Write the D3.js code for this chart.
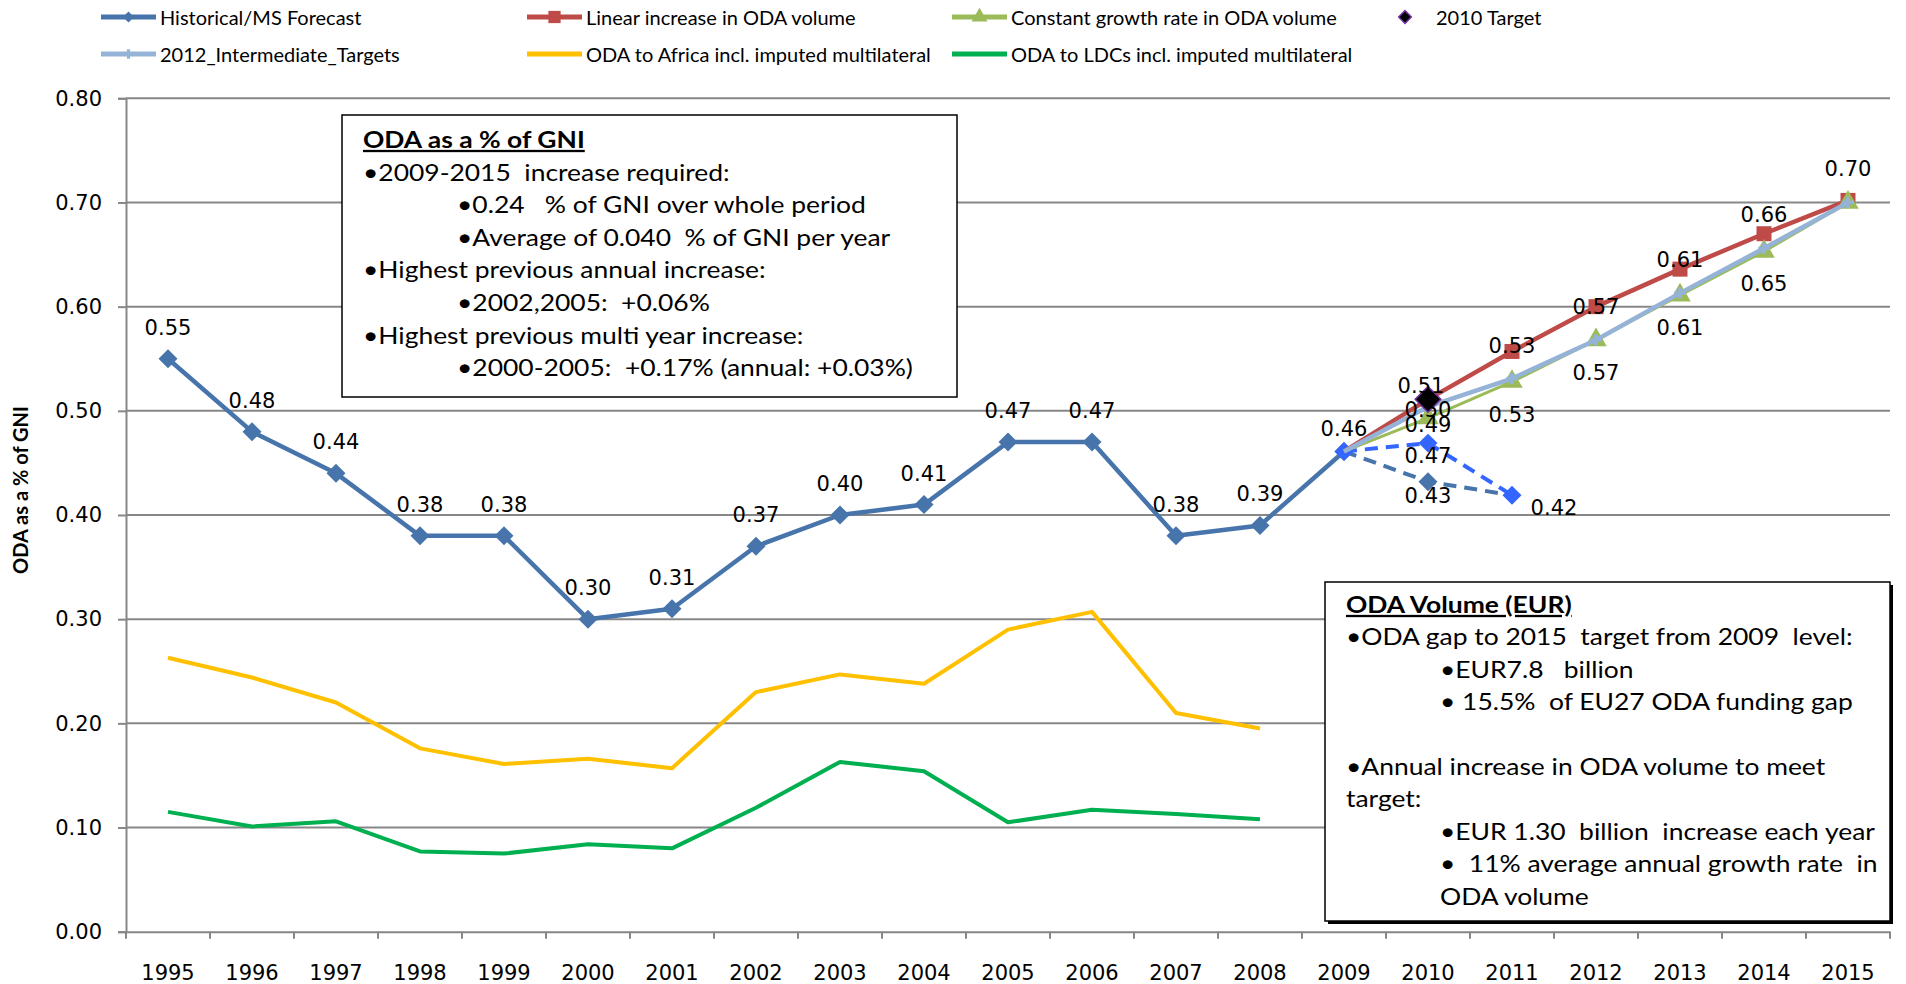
<!DOCTYPE html>
<html>
<head>
<meta charset="utf-8">
<script src="https://cdn.jsdelivr.net/npm/d3@7"></script>
<style>
body { margin: 0; background: #fff; }
svg text { font-family: "DejaVu Sans", Verdana, sans-serif; fill: #000; }
.cal { font-family: Lato, "Open Sans", sans-serif; }
.pre { white-space: pre; }
</style>
</head>
<body>
<svg width="1906" height="984"></svg>
<script>
// categories
const years = ['1995','1996','1997','1998','1999','2000','2001','2002','2003','2004',
               '2005','2006','2007','2008','2009','2010','2011','2012','2013','2014','2015'];
const histYears = years.slice(0, 15);      // 1995-2009
const forecastYears = ['2009','2010','2011'];
const projYears = ['2009','2010','2011','2012','2013','2014','2015'];
const aidYears = years.slice(0, 14);       // 1995-2008
const yTicks = [0, 0.1, 0.2, 0.3, 0.4, 0.5, 0.6, 0.7, 0.8];

// series values (ODA as % of GNI)
const historical = [0.55, 0.48, 0.44, 0.38, 0.38, 0.30, 0.31, 0.37, 0.40, 0.41, 0.47, 0.47, 0.38, 0.39, 0.461];
const msForecast = [0.461, 0.432, 0.419];
const msForecastAlt = [0.461, 0.469, 0.419];
const linearIncrease = [0.461, 0.511, 0.557, 0.600, 0.636, 0.670, 0.702];
const constantGrowth = [0.461, 0.493, 0.528, 0.568, 0.611, 0.653, 0.700];
const intermediateTargets = [0.461, 0.504, 0.531, 0.568, 0.613, 0.656, 0.700];
const target2010 = 0.511;
const africa = [0.263, 0.244, 0.220, 0.176, 0.161, 0.166, 0.157, 0.230, 0.247, 0.238, 0.290, 0.307, 0.210, 0.195];
const ldcs = [0.115, 0.101, 0.106, 0.077, 0.075, 0.084, 0.080, 0.119, 0.163, 0.154, 0.105, 0.117, 0.113, 0.108];

const legendItems = [
  ['Historical/MS Forecast', 'Linear increase in ODA volume', 'Constant growth rate in ODA volume', '2010 Target'],
  ['2012_Intermediate_Targets', 'ODA to Africa incl. imputed multilateral', 'ODA to LDCs incl. imputed multilateral']
];
const gniBox = [
  ['ODA as a % of GNI', 0, true],
  ['\u20222009-2015  increase required:', 0],
  ['\u20220.24   % of GNI over whole period', 1],
  ['\u2022Average of 0.040  % of GNI per year', 1],
  ['\u2022Highest previous annual increase:', 0],
  ['\u20222002,2005:  +0.06%', 1],
  ['\u2022Highest previous multi year increase:', 0],
  ['\u20222000-2005:  +0.17% (annual: +0.03%)', 1]
];
const volumeBox = [
  ['ODA Volume (EUR)', 0, true],
  ['\u2022ODA gap to 2015  target from 2009  level:', 0],
  ['\u2022EUR7.8   billion', 1],
  ['\u2022 15.5%  of EU27 ODA funding gap', 1],
  ['', 0],
  ['\u2022Annual increase in ODA volume to meet', 0],
  ['target:', 0],
  ['\u2022EUR 1.30  billion  increase each year', 1],
  ['\u2022  11% average annual growth rate  in', 1],
  ['ODA volume', 1]
];

const svg = d3.select('svg');
const fmt = d3.format('.2f');

const x = d3.scaleBand().domain(years).range([126, 1890]);
const y = d3.scaleLinear().domain([0, 0.8]).range([931.7, 98.3]);
const cx = d => x(d) + x.bandwidth() / 2;

const C = {
  hist: '#4775ab', red: '#be4b48', green: '#9bbb59', lblue: '#95b3d7',
  yellow: '#ffc000', ldc: '#00b050', bright: '#3366ff', grid: '#878787'
};

// gridlines
svg.append('g').selectAll('line').data(yTicks.slice(1)).join('line')
  .attr('x1', 126).attr('x2', 1890)
  .attr('y1', d => y(d)).attr('y2', d => y(d))
  .attr('stroke', C.grid).attr('stroke-width', 2);

// y axis
const yAxis = svg.append('g').attr('transform', 'translate(126,0)')
  .call(d3.axisLeft(y).tickValues(yTicks).tickFormat(fmt).tickSize(8).tickPadding(16));
yAxis.select('.domain').attr('stroke', C.grid).attr('stroke-width', 2);
yAxis.selectAll('.tick line').attr('stroke', C.grid).attr('stroke-width', 2);
yAxis.selectAll('text').style('font-size', '21px').style('font-family', '"DejaVu Sans", sans-serif');

// x axis
const xAxis = svg.append('g').attr('transform', 'translate(0,931.7)')
  .call(d3.axisBottom(x).tickSize(0).tickPadding(33));
xAxis.select('.domain').attr('stroke', C.grid).attr('stroke-width', 2);
xAxis.selectAll('text').style('font-size', '21px').style('font-family', '"DejaVu Sans", sans-serif');
xAxis.selectAll('.bnd').data(years.concat(['end'])).join('line')
  .attr('x1', (d, i) => 126 + i * x.step()).attr('x2', (d, i) => 126 + i * x.step())
  .attr('y1', 0).attr('y2', 7).attr('stroke', C.grid).attr('stroke-width', 2);

// y axis title
svg.append('text').attr('class', 'cal')
  .attr('transform', 'translate(28,490) rotate(-90)')
  .attr('text-anchor', 'middle')
  .style('font-size', '20px').style('font-weight', 'bold')
  .text('ODA as a % of GNI');

const line = (xs) => d3.line().x((d, i) => cx(xs[i])).y(d => y(d));

function drawLine(vals, xs, color, width, dash) {
  svg.append('path').datum(vals)
    .attr('d', line(xs)).attr('fill', 'none')
    .attr('stroke', color).attr('stroke-width', width)
    .attr('stroke-linejoin', 'round')
    .attr('stroke-dasharray', dash || null);
}
function drawMarkers(vals, xs, shape, size, fill, rot, stroke) {
  svg.append('g').selectAll('path').data(vals).join('path')
    .attr('d', d3.symbol().type(shape).size(size))
    .attr('transform', (d, i) => `translate(${cx(xs[i])},${y(d)}) rotate(${rot || 0})`)
    .attr('fill', fill).attr('stroke', stroke || 'none').attr('stroke-width', 1.5);
}
function drawLabels(vals, xs, keep, dx, dy) {
  svg.append('g').selectAll('text').data(vals.map((v, i) => [v, xs[i], i]).filter(d => keep(d[2])))
    .join('text')
    .attr('x', d => cx(d[1]) + dx(d[2])).attr('y', d => y(d[0]) + dy(d[2]))
    .attr('text-anchor', 'middle').attr('dominant-baseline', 'central')
    .style('font-size', '21px')
    .text(d => fmt(d[0]));
}

// aid to Africa / LDCs
drawLine(africa, aidYears, C.yellow, 4);
drawLine(ldcs, aidYears, C.ldc, 4);

// historical
drawLine(historical, histYears, C.hist, 4.5);
drawMarkers(historical, histYears, d3.symbolSquare, 180, C.hist, 45);

// forecasts
drawLine(msForecast, forecastYears, C.hist, 4, '13,8');
drawLine(msForecastAlt, forecastYears, C.bright, 4, '13,8');
drawMarkers(msForecast.slice(1, 2), forecastYears.slice(1, 2), d3.symbolSquare, 180, C.hist, 45);
drawMarkers(msForecastAlt, forecastYears, d3.symbolSquare, 180, C.bright, 45);

// projections
drawLine(linearIncrease, projYears, C.red, 4.5);
drawMarkers(linearIncrease.slice(1), projYears.slice(1), d3.symbolSquare, 225, C.red);
drawLine(constantGrowth, projYears, C.green, 3);
drawMarkers(constantGrowth.slice(1), projYears.slice(1), d3.symbolTriangle, 200, C.green);
drawLine(intermediateTargets, projYears, C.lblue, 4.5);
drawMarkers(intermediateTargets.slice(1), projYears.slice(1), d3.symbolCross, 70, C.lblue);

// 2010 target
drawMarkers([target2010], ['2010'], d3.symbolSquare, 330, '#000', 45, '#7030a0');

// data labels
drawLabels(historical, histYears, i => true, i => 0, i => (i === 14 ? -22 : -31));
drawLabels(msForecast, forecastYears, i => i === 1, i => 0, i => 14);
drawLabels(msForecastAlt, forecastYears, i => i > 0, i => (i === 2 ? 42 : 0), i => 13);
drawLabels(constantGrowth, projYears, i => i > 0 && i < 6, i => 0, i => (i === 1 ? 7 : 33));
drawLabels(intermediateTargets, projYears, i => i > 0, i => 0, i => (i === 1 ? 3 : -33));
drawLabels([target2010], ['2010'], i => true, i => -7, i => -13);

// legend
const legX = [101, 527, 952, 1380];
const legY = [17, 54];
legendItems.forEach((row, r) => row.forEach((name, c) => {
  const g = svg.append('g').attr('transform', `translate(${legX[c]},${legY[r]})`);
  const key = r * 4 + c;
  const col = [C.hist, C.red, C.green, null, C.lblue, C.yellow, C.ldc][key];
  if (col) {
    g.append('line').attr('x1', 0).attr('x2', 55).attr('stroke', col).attr('stroke-width', 5);
  }
  const mk = [[d3.symbolSquare, 60, 45], [d3.symbolSquare, 150, 0], [d3.symbolTriangle, 110, 0], [d3.symbolSquare, 80, 45],
              [d3.symbolCross, 50, 0], null, null][key];
  if (mk) {
    g.append('path').attr('d', d3.symbol().type(mk[0]).size(mk[1]))
      .attr('transform', `translate(${key === 3 ? 25 : 27.5},0) rotate(${mk[2]})`)
      .attr('fill', col || '#000').attr('stroke', key === 3 ? '#7030a0' : 'none').attr('stroke-width', 1.5);
  }
  g.append('text').attr('class', 'cal')
    .attr('x', key === 3 ? 56 : 59).attr('y', 0).attr('dominant-baseline', 'central')
    .style('font-size', '20px').text(name);
}));

// text boxes
function textBox(x0, y0, w, h, lines, firstBase, step, indent, shadow) {
  const g = svg.append('g');
  if (shadow) {
    g.append('rect').attr('x', x0 + 3).attr('y', y0 + 3).attr('width', w).attr('height', h).attr('fill', '#000');
  }
  g.append('rect').attr('x', x0).attr('y', y0).attr('width', w).attr('height', h)
    .attr('fill', '#fff').attr('stroke', '#000').attr('stroke-width', 1.5);
  g.selectAll('text').data(lines).join('text').attr('class', 'cal pre')
    .attr('transform', (d, i) => `translate(${x0 + 21 + d[1] * indent},${firstBase + i * step}) scale(1.15,1)`)
    .style('font-size', '23px')
    .style('font-weight', d => (d[2] ? 'bold' : null))
    .style('text-decoration', d => (d[2] ? 'underline' : null))
    .text(d => d[0]);
}
textBox(342, 115, 615, 282, gniBox, 148, 32.6, 94, false);
textBox(1325, 582, 565, 339, volumeBox, 613, 32.4, 94, true);
</script>
</body>
</html>
